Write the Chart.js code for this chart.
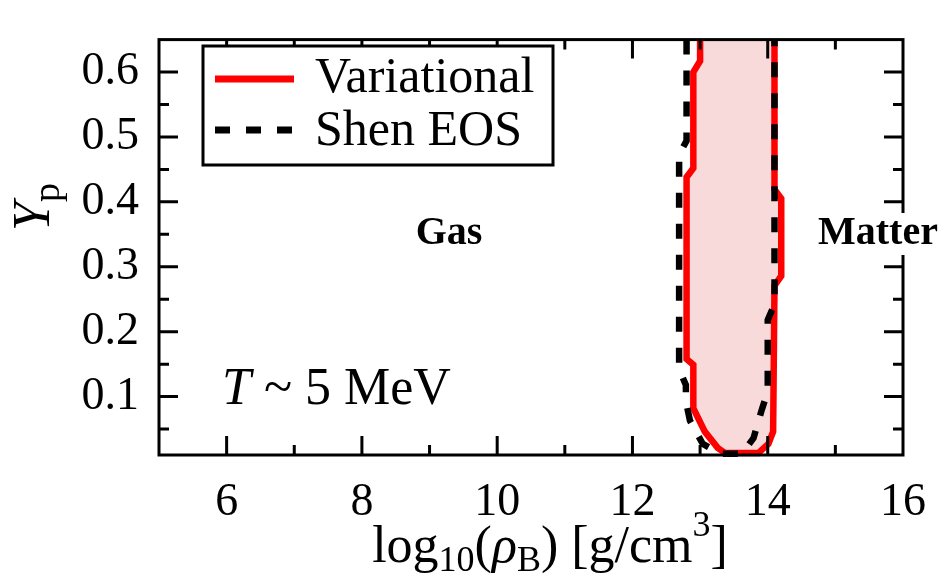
<!DOCTYPE html>
<html>
<head>
<meta charset="utf-8">
<script src="https://cdn.jsdelivr.net/npm/chart.js@4.4.1/dist/chart.umd.min.js"></script>
<style>
  html, body { margin: 0; padding: 0; background: #fff; }
  canvas { display: block; }
</style>
</head>
<body>
<canvas id="c" width="945" height="576"></canvas>
<script>
// phase boundary at T ~ 5 MeV, log10(rho_B) vs Y_p
var variationalX = [13.0, 13.0, 12.9, 12.9, 12.8, 12.8, 12.9, 12.9, 13.07, 13.26, 13.37, 13.86, 14.01, 14.08, 14.1, 14.2, 14.2, 14.1, 14.1]
  , variationalY = [0.65, 0.617, 0.60, 0.452, 0.438, 0.158, 0.149, 0.082, 0.046, 0.021, 0.013, 0.013, 0.027, 0.046, 0.271, 0.286, 0.405, 0.419, 0.65]
  , shenX        = [12.8, 12.8, 12.69, 12.69, 12.79, 12.79, 12.85, 13.04, 13.3, 13.62, 13.79, 13.91, 14.0, 14.0, 14.1, 14.1]
  , shenY        = [0.65, 0.494, 0.473, 0.142, 0.118, 0.093, 0.063, 0.027, 0.012, 0.012, 0.036, 0.079, 0.108, 0.218, 0.242, 0.65]
  , xTicks       = [5, 6, 7, 8, 9, 10, 11, 12, 13, 14, 15, 16]
  , yTicks       = [0.05, 0.1, 0.15, 0.2, 0.25, 0.3, 0.35, 0.4, 0.45, 0.5, 0.55, 0.6]
  , xMajor       = [6, 8, 10, 12, 14, 16]
  , yMajor       = [0.1, 0.2, 0.3, 0.4, 0.5, 0.6]

var SERIF = "Liberation Serif"

function toPoints(xs, ys) {
  return xs.map(function(x, i) { return {x: x, y: ys[i]} })
}

function isMajor(list, v) {
  return list.some(function(m) { return Math.abs(m - v) < 1e-6 })
}

function font(spec) {
  return spec + " '" + SERIF + "', serif"
}

// draws text pieces in a row; each piece may be shifted up/down and resized
function drawRuns(ctx, x, y, runs) {
  runs.forEach(function(r) {
    ctx.font = r.font
    ctx.fillText(r.text, x, y + (r.dy || 0))
    x += ctx.measureText(r.text).width + (r.gap || 0)
  })
  return x
}

function runsWidth(ctx, runs) {
  var w = 0
  runs.forEach(function(r) {
    ctx.font = r.font
    w += ctx.measureText(r.text).width + (r.gap || 0)
  })
  return w
}

// frame with inward ticks on all four sides, drawn over the filled region
var framePlugin = {
  id: "frame",
  afterDatasetsDraw: function(chart) {
    var ctx = chart.ctx
      , a   = chart.chartArea
      , xs  = chart.scales.x
      , ys  = chart.scales.y
    ctx.save()
    ctx.strokeStyle = "#000"
    ctx.lineWidth = 3
    ctx.lineCap = "butt"
    ctx.strokeRect(a.left, a.top, a.right - a.left, a.bottom - a.top)
    ctx.beginPath()
    xs.ticks.forEach(function(t) {
      var px  = xs.getPixelForValue(t.value)
        , len = isMajor(xMajor, t.value) ? 19 : 10
      if (px <= a.left + 1 || px >= a.right - 1) return
      ctx.moveTo(px, a.bottom); ctx.lineTo(px, a.bottom - len)
      ctx.moveTo(px, a.top);    ctx.lineTo(px, a.top + len)
    })
    ys.ticks.forEach(function(t) {
      var py  = ys.getPixelForValue(t.value)
        , len = isMajor(yMajor, t.value) ? 19 : 10
      ctx.moveTo(a.left, py);  ctx.lineTo(a.left + len, py)
      ctx.moveTo(a.right, py); ctx.lineTo(a.right - len, py)
    })
    ctx.stroke()
    ctx.restore()
  }
}

var labelPlugin = {
  id: "labels",
  afterDraw: function(chart) {
    var ctx = chart.ctx
      , ds  = chart.data.datasets
    ctx.save()
    ctx.textBaseline = "alphabetic"
    ctx.textAlign = "left"

    // legend box
    ctx.fillStyle = "#fff"
    ctx.fillRect(203, 46, 350, 119)
    ctx.strokeStyle = "#000"
    ctx.lineWidth = 3
    ctx.strokeRect(203, 46, 350, 119)
    var rows = [{ds: ds[1], y: 79, base: 92}, {ds: ds[0], y: 130, base: 145}]
    rows.forEach(function(r) {
      ctx.beginPath()
      ctx.strokeStyle = r.ds.borderColor
      ctx.lineWidth = 7
      ctx.setLineDash(r.ds.borderDash || [])
      ctx.moveTo(215, r.y); ctx.lineTo(294, r.y)
      ctx.stroke()
      ctx.setLineDash([])
      ctx.fillStyle = "#000"
      ctx.font = font("50px")
      ctx.fillText(r.ds.label, 315, r.base)
    })

    // region names
    ctx.font = font("bold 40px")
    ctx.textAlign = "center"
    ctx.fillStyle = "#000"
    ctx.fillText("Gas", 449, 244)
    var mw = ctx.measureText("Matter").width
    ctx.fillStyle = "#fff"
    ctx.fillRect(878 - mw / 2 - 2, 213, mw + 4, 42)
    ctx.fillStyle = "#000"
    ctx.fillText("Matter", 878, 244)

    // temperature note
    ctx.textAlign = "left"
    drawRuns(ctx, 222, 404, [
      {text: "T", font: font("italic 52px")},
      {text: " ~ 5 MeV", font: font("52px")}
    ])

    // x axis title: log10(rhoB) [g/cm3]
    var xRuns = [
      {text: "log", font: font("52px")},
      {text: "10", font: font("36px"), dy: 9},
      {text: "(", font: font("52px")},
      {text: "\u03C1", font: font("italic 52px")},
      {text: "B", font: font("36px"), dy: 9},
      {text: ") [g/cm", font: font("52px")},
      {text: "3", font: font("36px"), dy: -26},
      {text: "]", font: font("52px")}
    ]
    var xw = runsWidth(ctx, xRuns)
    drawRuns(ctx, 550 - xw / 2, 562, xRuns)

    // y axis title: Yp
    ctx.translate(49, 207)
    ctx.rotate(-Math.PI / 2)
    var yRuns = [
      {text: "Y", font: font("italic 52px")},
      {text: "p", font: font("38px"), dy: 10}
    ]
    var yw = runsWidth(ctx, yRuns)
    drawRuns(ctx, -yw / 2, 0, yRuns)
    ctx.restore()
  }
}

new Chart(document.getElementById("c"), {
  type: "line",
  data: {
    datasets: [
      // drawn on top of the filled region
      { label: "Shen EOS"
      , data: toPoints(shenX, shenY)
      , borderColor: "#000000"
      , borderWidth: 6.5
      , borderDash: [15, 16]
      , fill: false
      , pointRadius: 0
      , tension: 0
      , clip: {left: 0, top: 0, right: 0, bottom: 5}
      },
      { label: "Variational"
      , data: toPoints(variationalX, variationalY)
      , borderColor: "#ff0000"
      , borderWidth: 6.5
      , backgroundColor: "rgb(249, 218, 219)"
      , fill: "shape"
      , pointRadius: 0
      , tension: 0
      , clip: {left: 0, top: 0, right: 0, bottom: 5}
      }
    ]
  },
  options: {
    responsive: false,
    animation: false,
    devicePixelRatio: 1,
    layout: {padding: {top: 9, right: 42, left: 0, bottom: 0}},
    plugins: {legend: {display: false}, tooltip: {enabled: false}},
    scales: {
      x: {
        type: "linear",
        min: 5,
        max: 16,
        grid: {display: false},
        border: {display: false},
        afterBuildTicks: function(s) { s.ticks = xTicks.map(function(v) { return {value: v} }) },
        afterFit: function(s) { s.height = 121 },
        ticks: {
          color: "#000",
          padding: 12,
          maxRotation: 0,
          autoSkip: false,
          font: {family: SERIF, size: 46},
          callback: function(v) { return isMajor(xMajor, v) ? String(v) : "" }
        }
      },
      y: {
        type: "linear",
        min: 0.01,
        max: 0.65,
        grid: {display: false},
        border: {display: false},
        afterBuildTicks: function(s) { s.ticks = yTicks.map(function(v) { return {value: v} }) },
        afterFit: function(s) { s.width = 159 },
        ticks: {
          color: "#000",
          padding: 12,
          autoSkip: false,
          font: {family: SERIF, size: 46},
          callback: function(v) { return isMajor(yMajor, v) ? v.toFixed(1) : "" }
        }
      }
    }
  },
  plugins: [framePlugin, labelPlugin]
})
</script>
</body>
</html>
